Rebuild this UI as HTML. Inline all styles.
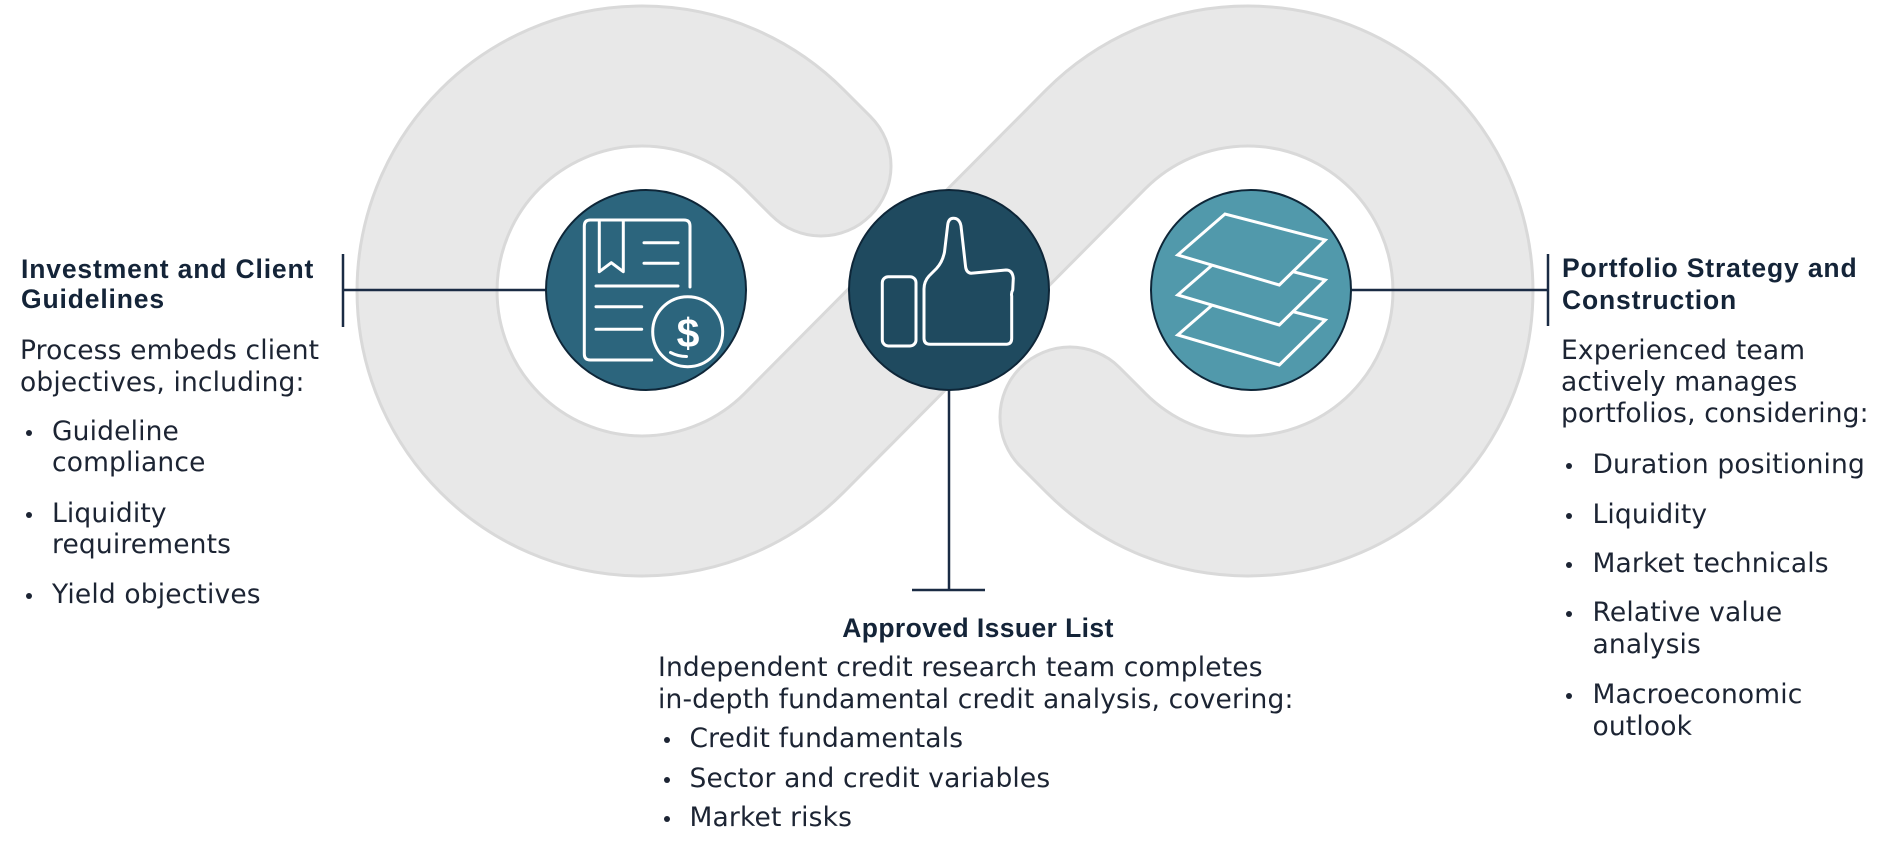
<!DOCTYPE html>
<html>
<head>
<meta charset="utf-8">
<style>
  html, body { margin: 0; padding: 0; background: #ffffff; }
  body { width: 1879px; height: 847px; overflow: hidden; }
  svg { display: block; }
  .h { font-family: "Liberation Sans", Arial, sans-serif; font-weight: bold; font-size: 26.5px; letter-spacing: 0.85px; fill: #142438; }
  .b { font-family: "DejaVu Sans", "Liberation Sans", sans-serif; font-size: 26.5px; letter-spacing: 0.15px; fill: #1c2433; }
</style>
</head>
<body>
<svg width="1879" height="847" viewBox="0 0 1879 847" xmlns="http://www.w3.org/2000/svg">
  <!-- infinity band -->
  <path d="M821 166 L794 139 A215 215 0 1 0 794 443 L1096 139 A215 215 0 1 1 1096 443 L1070 417"
        fill="none" stroke="#d9d9d9" stroke-width="143" stroke-linecap="round" stroke-linejoin="round"/>
  <path d="M821 166 L794 139 A215 215 0 1 0 794 443 L1096 139 A215 215 0 1 1 1096 443 L1070 417"
        fill="none" stroke="#e8e8e8" stroke-width="137" stroke-linecap="round" stroke-linejoin="round"/>

  <!-- connectors -->
  <g stroke="#1a2b44" stroke-width="2.5" fill="none">
    <line x1="343" y1="290" x2="548" y2="290"/>
    <line x1="343" y1="254" x2="343" y2="327"/>
    <line x1="1350" y1="290" x2="1548" y2="290"/>
    <line x1="1548" y1="254" x2="1548" y2="326"/>
    <line x1="949" y1="388" x2="949" y2="590"/>
    <line x1="912" y1="590" x2="985" y2="590"/>
  </g>

  <!-- circles -->
  <circle cx="646" cy="290" r="100" fill="#2c657d" stroke="#0e2638" stroke-width="2"/>
  <circle cx="949" cy="290" r="100" fill="#1f4a5f" stroke="#0e2638" stroke-width="2"/>
  <circle cx="1251" cy="290" r="100" fill="#5199ab" stroke="#0e2638" stroke-width="2"/>

  <!-- document icon -->
  <g stroke="#ffffff" stroke-width="3" fill="none" stroke-linecap="round" stroke-linejoin="round">
    <path d="M651.7 360 L590.3 360 Q584.3 360 584.3 354 L584.3 226 Q584.3 220 590.3 220 L684 220 Q690 220 690 226 L690 287"/>
    <path d="M599.3 220 L599.3 271.7 L611.3 262.7 L623.3 271.7 L623.3 220"/>
    <line x1="644" y1="242.7" x2="678" y2="242.7"/>
    <line x1="644" y1="263.3" x2="678" y2="263.3"/>
    <line x1="596" y1="286" x2="678" y2="286"/>
    <line x1="596" y1="306.7" x2="641.7" y2="306.7"/>
    <line x1="596" y1="329.3" x2="641.7" y2="329.3"/>
    <circle cx="687.7" cy="331.7" r="35"/>
    <path d="M670.5 352.5 Q678 356.5 686.5 356.5"/>
  </g>
  <text x="688" y="347" text-anchor="middle" font-family="Liberation Sans, Arial, sans-serif" font-weight="bold" font-size="41" fill="#ffffff">$</text>

  <!-- thumbs up icon -->
  <g stroke="#ffffff" stroke-width="3" fill="none" stroke-linecap="round" stroke-linejoin="round">
    <rect x="882.3" y="276.7" width="33.7" height="69.3" rx="6" ry="6"/>
    <path d="M930 344.3 L1006.7 344.3 Q1011.7 344 1011.7 338.3 L1011.7 296 Q1011 293 1012.7 290 L1013.3 278.3 Q1012.5 270 1006 270 L971 273.3 Q966 272.5 965.5 266 L961 226 Q959.5 218.3 953.3 218.3 Q948.5 218.3 947.7 225 L944.5 252 Q942.5 262 936.5 268.5 L929 276 Q924 281.5 924 289 L924 338.3 Q924 344.3 930 344.3 Z"/>
  </g>

  <!-- layers icon -->
  <g stroke="#ffffff" stroke-width="3" fill="#5199ab" stroke-linejoin="miter">
    <polygon points="1177.7,335 1225,294 1325.3,320 1279.3,365"/>
    <polygon points="1177.7,295 1225,254 1325.3,280 1279.3,325"/>
    <polygon points="1177.7,255 1225,214 1325.3,240 1279.3,285"/>
  </g>

  <!-- left column -->
  <text class="h" x="21" y="278">Investment and Client</text>
  <text class="h" x="21" y="308">Guidelines</text>
  <text class="b" x="20" y="359">Process embeds client</text>
  <text class="b" x="20" y="391">objectives, including:</text>
  <g fill="#1c2433">
    <circle cx="29" cy="433" r="3"/>
    <circle cx="29" cy="515" r="3"/>
    <circle cx="29" cy="596" r="3"/>
  </g>
  <text class="b" x="52" y="440">Guideline</text>
  <text class="b" x="52" y="471">compliance</text>
  <text class="b" x="52" y="522">Liquidity</text>
  <text class="b" x="52" y="553">requirements</text>
  <text class="b" x="52" y="603">Yield objectives</text>

  <!-- right column -->
  <text class="h" x="1562" y="277">Portfolio Strategy and</text>
  <text class="h" x="1562" y="309">Construction</text>
  <text class="b" x="1561" y="359">Experienced team</text>
  <text class="b" x="1561" y="390.5">actively manages</text>
  <text class="b" x="1561" y="422">portfolios, considering:</text>
  <g fill="#1c2433">
    <circle cx="1569" cy="466" r="3"/>
    <circle cx="1569" cy="516" r="3"/>
    <circle cx="1569" cy="565" r="3"/>
    <circle cx="1569" cy="614" r="3"/>
    <circle cx="1569" cy="696" r="3"/>
  </g>
  <text class="b" x="1592.5" y="473">Duration positioning</text>
  <text class="b" x="1592.5" y="523">Liquidity</text>
  <text class="b" x="1592.5" y="572">Market technicals</text>
  <text class="b" x="1592.5" y="621">Relative value</text>
  <text class="b" x="1592.5" y="653">analysis</text>
  <text class="b" x="1592.5" y="703">Macroeconomic</text>
  <text class="b" x="1592.5" y="735">outlook</text>

  <!-- middle column -->
  <text class="h" x="978" y="637" text-anchor="middle" style="letter-spacing:0.4px">Approved Issuer List</text>
  <text class="b" x="658" y="676">Independent credit research team completes</text>
  <text class="b" x="658" y="708">in-depth fundamental credit analysis, covering:</text>
  <g fill="#1c2433">
    <circle cx="667" cy="740" r="3"/>
    <circle cx="667" cy="780" r="3"/>
    <circle cx="667" cy="819" r="3"/>
  </g>
  <text class="b" x="689.5" y="747">Credit fundamentals</text>
  <text class="b" x="689.5" y="787">Sector and credit variables</text>
  <text class="b" x="689.5" y="826">Market risks</text>
</svg>
</body>
</html>
